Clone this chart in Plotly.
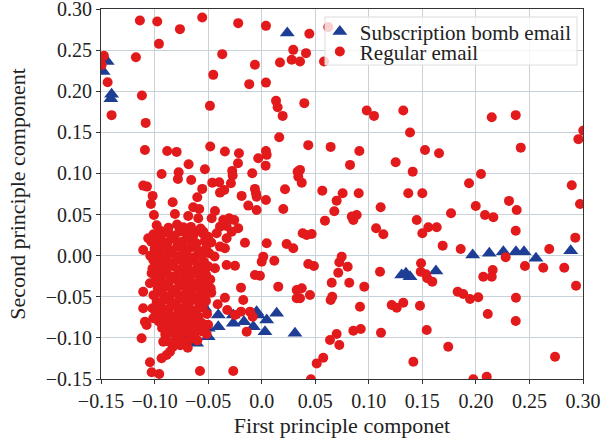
import plotly.graph_objects as go

# ---------------- data ----------------
# Subscription bomb email (blue triangles)
bomb_x = [-0.1442, -0.1480, -0.1401, -0.1408, 0.0239,
          0.1347, 0.1307, 0.1385, 0.1627, 0.1970, 0.2125, 0.2256, 0.2374, 0.2449, 0.2561, 0.2885,
          0.0140, 0.0047, 0.0031, 0.0311, -0.0047, -0.0078, -0.0165, -0.0265, -0.0405,
          -0.0560, -0.0530, -0.0499, -0.0405, -0.0499, -0.0607, -0.0747, -0.0794, -0.0707,
          -0.0779, -0.0763, -0.0032, -0.0265, -0.0574]
bomb_y = [0.2361, 0.2239, 0.1964, 0.1907, 0.2707,
          -0.0214, -0.0235, -0.0255, -0.0186, 0.0009, 0.0029, 0.0049, 0.0049, 0.0049, -0.0032, 0.0061,
          -0.0701, -0.0782, -0.0925, -0.0944, -0.0681, -0.0864, -0.0803, -0.0822, -0.0722,
          -0.0579, -0.0640, -0.0883, -0.0864, -0.0985, -0.1066, -0.0985, -0.1087, -0.1050,
          -0.0864, -0.0742, -0.0722, -0.0722, -0.0518]

# Regular email (red circles) - scattered points
regular_x = [-0.1137, -0.0975, -0.0555, -0.0763, -0.0219, 0.0040, -0.0959, -0.1473, -0.1494, -0.1174,
             -0.0368, 0.0295, 0.0171, 0.0280, -0.0063, -0.0452, -0.1438, -0.0116, 0.0040, -0.1118,
             0.0134, 0.0149, -0.0483, -0.1401, 0.0196, -0.1083, 0.0164, -0.0480, -0.1090, -0.0882,
             -0.0794, -0.0343, -0.0212, 0.0040, 0.0047, -0.0032, -0.0682, -0.0221, 0.0037, -0.0934,
             -0.0775, -0.0530, -0.0275, -0.0782, -0.0658, -0.0271, -0.0088, 0.0336, 0.0342, -0.0461,
             -0.0396, -0.0287, -0.1106, -0.1071, -0.0555, -0.0389, -0.0349, -0.0063, -0.0053, -0.0047,
             0.0218, -0.1018, -0.0601, -0.0187, -0.0831, -0.1034, -0.0125, 0.0040, -0.0639, -0.0583,
             0.0202, -0.0047, -0.0436, -0.1006, -0.0810, -0.0686, -0.0592, -0.0467, -0.0359, -0.0303,
             -0.0256, -0.0732, -0.0941, -0.0389, -0.0327, -0.0219, -0.0280, -0.1059, -0.0950, -0.0826,
             -0.0623, -0.0545, -0.0420, -0.0327, -0.0156, 0.0047, -0.1106, -0.0980, -0.0389, -0.0343,
             0.0015,
             0.0445, 0.0622, 0.0414, 0.0358, 0.0582, 0.0398, 0.0981, 0.1049, 0.1322, 0.2148,
             0.2372, 0.1385, 0.3003, 0.2957, 0.0435, 0.0644, 0.0912, 0.1525, 0.1656, 0.2419,
             0.0825, 0.1251, 0.1410, 0.0358, 0.0374, 0.2048, 0.1936, 0.2895, 0.0566, 0.0756,
             0.0906, 0.1369, 0.1500, 0.0700, 0.1111, 0.1999, 0.2309, 0.2381, 0.2972, 0.0678,
             0.0841, 0.0887, 0.1768, 0.2085, 0.2163, 0.1448, 0.0591,
             0.0856, 0.1068, 0.1136, 0.1500, 0.1556, 0.1634, 0.2372, 0.2928, 0.0420, 0.0467,
             0.0383, 0.1690, 0.1858, 0.2685, 0.2278, 0.0435, 0.0488, 0.0747, 0.0725, 0.0803,
             0.0715, 0.1105, 0.1488, 0.1485, 0.1534, 0.1546, 0.1593, 0.2458, 0.2629, 0.2825,
             0.2157, 0.2069, 0.2148, 0.0654, 0.0818, 0.0958, 0.2935, 0.0374, 0.0451, 0.0358,
             0.0659, 0.0644, 0.1830, 0.1882, 0.1945, 0.2022, 0.2374, 0.1214, 0.1261, 0.1322,
             0.0918, 0.1478, 0.2111, 0.2372, 0.0856, 0.0925, 0.1114, 0.1541, 0.0700, 0.0638,
             0.0725, 0.1742, 0.2739, 0.0575, 0.0514, 0.1416, 0.0460, 0.1976, 0.2101,
             -0.1012, -0.0436, -0.0327, -0.0249, 0.0000, 0.0118, -0.0063, -0.0016, -0.0476, -0.0193,
             0.0155, 0.0327, -0.1106, -0.1027, -0.1043, -0.0530, -0.0343, -0.0172, -0.1106, -0.0411,
             -0.0321, -0.0249, -0.0193, -0.0109, -0.0084, -0.1090, -0.1074, -0.1012, -0.1121, -0.0919,
             -0.0747, -0.0514, -0.0140, -0.0856, -0.0887, -0.0934, -0.1043, -0.1027, -0.0956, -0.0576,
             -0.0265, 0.0233, 0.0295, 0.0327]
regular_y = [0.2860, 0.2848, 0.2897, 0.2755, 0.2828, 0.2795, 0.2576, 0.2430, 0.2320, 0.2414,
             0.2451, 0.2503, 0.2349, 0.2382, 0.2321, 0.2199, 0.2110, 0.2086, 0.2105, 0.1947,
             0.1883, 0.1806, 0.1822, 0.1709, 0.1700, 0.1615, 0.1441, 0.1327, 0.1286, 0.1274,
             0.1262, 0.1266, 0.1246, 0.1274, 0.1226, 0.1185, 0.1112, 0.1125, 0.1095, 0.0994,
             0.1015, 0.1051, 0.1031, 0.0933, 0.0921, 0.0974, 0.1003, 0.1022, 0.0961, 0.0888,
             0.0893, 0.0881, 0.0852, 0.0840, 0.0812, 0.0767, 0.0800, 0.0812, 0.0759, 0.0718,
             0.0808, 0.0727, 0.0711, 0.0727, 0.0650, 0.0629, 0.0609, 0.0678, 0.0589, 0.0568,
             0.0568, 0.0556, 0.0544, 0.0495, 0.0507, 0.0483, 0.0455, 0.0455, 0.0434, 0.0455,
             0.0434, 0.0346, 0.0301, 0.0353, 0.0361, 0.0333, 0.0292, 0.0212, 0.0191, 0.0240,
             0.0292, 0.0292, 0.0273, 0.0212, 0.0158, 0.0151, 0.0069, 0.0110, 0.0110, 0.0090,
             -0.0012,
             0.2698, 0.2780, 0.2463, 0.2361, 0.2361, 0.1855, 0.1765, 0.1700, 0.1765, 0.1684,
             0.1709, 0.1497, 0.1521, 0.1417, 0.1344, 0.1323, 0.1274, 0.1286, 0.1246, 0.1314,
             0.1104, 0.1137, 0.1022, 0.1043, 0.0888, 0.0994, 0.0881, 0.0857, 0.0791, 0.0759,
             0.0759, 0.0759, 0.0759, 0.0669, 0.0589, 0.0605, 0.0666, 0.0556, 0.0629, 0.0540,
             0.0475, 0.0495, 0.0516, 0.0495, 0.0467, 0.0434, 0.0426,
             0.0434, 0.0333, 0.0260, 0.0273, 0.0346, 0.0346, 0.0304, 0.0219, 0.0252, 0.0264,
             0.0273, 0.0122, 0.0082, 0.0082, -0.0019, -0.0101, -0.0125, -0.0012, -0.0080, -0.0134,
             -0.0207, -0.0195, -0.0092, -0.0195, -0.0226, -0.0275, -0.0316, -0.0125, -0.0146, -0.0146,
             -0.0174, -0.0256, -0.0256, -0.0329, -0.0329, -0.0377, -0.0365, -0.0397, -0.0478, -0.0518,
             -0.0499, -0.0539, -0.0438, -0.0466, -0.0527, -0.0506, -0.0511, -0.0600, -0.0633, -0.0572,
             -0.0621, -0.0609, -0.0710, -0.0795, -0.0913, -0.0892, -0.0937, -0.0904, -0.0953, -0.1026,
             -0.1087, -0.1107, -0.1229, -0.1241, -0.1310, -0.1290, -0.1504, -0.1504, -0.1472,
             -0.0052, -0.0153, -0.0113, -0.0122, -0.0073, -0.0061, -0.0235, -0.0245, -0.0397, -0.0389,
             -0.0377, -0.0417, -0.0438, -0.0214, -0.0336, -0.0478, -0.0511, -0.0539, -0.0640, -0.0591,
             -0.0661, -0.0722, -0.0681, -0.0681, -0.0742, -0.0803, -0.0843, -0.0762, -0.1005, -0.1047,
             -0.1054, -0.0953, -0.0925, -0.1168, -0.1208, -0.1248, -0.1297, -0.1418, -0.1439, -0.1403,
             -0.1403, 0.0142, 0.0090, -0.0518]

# Regular email - dense cluster near (-0.08, -0.03)
cluster_x = [-0.098, -0.087, -0.079, -0.066, -0.057,
             -0.101, -0.091, -0.085, -0.077, -0.070, -0.064, -0.055, -0.050,
             -0.103, -0.094, -0.088, -0.081, -0.074, -0.068, -0.061, -0.053, -0.047,
             -0.100, -0.092, -0.086, -0.079, -0.072, -0.066, -0.059, -0.052,
             -0.104, -0.096, -0.089, -0.083, -0.076, -0.070, -0.063, -0.056, -0.049, -0.044,
             -0.099, -0.093, -0.087, -0.080, -0.073, -0.067, -0.060, -0.054,
             -0.102, -0.095, -0.089, -0.082, -0.075, -0.069, -0.062, -0.056, -0.050,
             -0.098, -0.091, -0.085, -0.078, -0.071, -0.065, -0.058, -0.052,
             -0.100, -0.094, -0.087, -0.080, -0.074, -0.067, -0.061, -0.055, -0.048,
             -0.097, -0.090, -0.083, -0.077, -0.070, -0.063, -0.057, -0.051,
             -0.101, -0.093, -0.086, -0.080, -0.073, -0.066, -0.060, -0.054, -0.047,
             -0.098, -0.091, -0.084, -0.077, -0.070, -0.064, -0.058, -0.052,
             -0.102, -0.094, -0.087, -0.081, -0.074, -0.068, -0.061, -0.055,
             -0.099, -0.092, -0.085, -0.078, -0.072, -0.065, -0.059, -0.051,
             -0.096, -0.089, -0.082, -0.076, -0.069, -0.062, -0.056,
             -0.093, -0.086, -0.079, -0.073, -0.066, -0.059, -0.050,
             -0.090, -0.083, -0.076, -0.070, -0.063, -0.056,
             -0.088, -0.080, -0.073, -0.066, -0.060,
             -0.083, -0.076, -0.069]
cluster_y = [0.037, 0.034, 0.038, 0.035, 0.033,
             0.026, 0.028, 0.025, 0.029, 0.026, 0.024, 0.027, 0.023,
             0.017, 0.019, 0.016, 0.020, 0.017, 0.019, 0.015, 0.018, 0.016,
             0.008, 0.010, 0.007, 0.011, 0.008, 0.010, 0.006, 0.009,
             0.000, 0.002, -0.001, 0.003, 0.000, 0.002, -0.002, 0.001, 0.003, -0.001,
             -0.008, -0.006, -0.009, -0.005, -0.008, -0.006, -0.010, -0.007,
             -0.016, -0.014, -0.017, -0.013, -0.016, -0.014, -0.018, -0.015, -0.013,
             -0.024, -0.022, -0.025, -0.021, -0.024, -0.022, -0.026, -0.023,
             -0.032, -0.030, -0.033, -0.029, -0.032, -0.030, -0.034, -0.031, -0.029,
             -0.040, -0.038, -0.041, -0.037, -0.040, -0.038, -0.042, -0.039,
             -0.048, -0.046, -0.049, -0.045, -0.048, -0.046, -0.050, -0.047, -0.045,
             -0.056, -0.054, -0.057, -0.053, -0.056, -0.054, -0.058, -0.055,
             -0.064, -0.062, -0.065, -0.061, -0.064, -0.062, -0.066, -0.063,
             -0.072, -0.070, -0.073, -0.069, -0.072, -0.070, -0.074, -0.071,
             -0.080, -0.078, -0.081, -0.077, -0.080, -0.078, -0.082,
             -0.088, -0.086, -0.089, -0.085, -0.088, -0.086, -0.084,
             -0.096, -0.094, -0.097, -0.093, -0.096, -0.092,
             -0.104, -0.102, -0.105, -0.101, -0.103,
             -0.111, -0.109, -0.112]

# Axis ticks
x_tickvals = [-0.15, -0.10, -0.05, 0.0, 0.05, 0.10, 0.15, 0.20, 0.25, 0.30]
x_ticktext = ["\u22120.15", "\u22120.10", "\u22120.05", "0.0", "0.05", "0.10", "0.15", "0.20", "0.25", "0.30"]
y_tickvals = [-0.15, -0.10, -0.05, 0.0, 0.05, 0.10, 0.15, 0.20, 0.25, 0.30]
y_ticktext = ["\u22120.15", "\u22120.10", "\u22120.05", "0.00", "0.05", "0.10", "0.15", "0.20", "0.25", "0.30"]

RED = "#e31a1c"
BLUE = "#1d3e94"
FONT = "Liberation Serif, Times New Roman, serif"
TXT = "#222222"

fig = go.Figure()
fig.add_trace(go.Scatter(
    x=bomb_x, y=bomb_y, mode="markers", name="Subscription bomb email",
    marker=dict(symbol="triangle-up", size=13, color=BLUE, line=dict(width=0)),
    legend="legend",
))
fig.add_trace(go.Scatter(
    x=regular_x + cluster_x, y=regular_y + cluster_y, mode="markers", name="Regular email",
    marker=dict(symbol="circle", size=10, color=RED, line=dict(width=0)),
    legend="legend2",
))

axis_common = dict(
    showgrid=True, gridcolor="#c9d1d9", gridwidth=1,
    zeroline=False, showline=True, linecolor="#333333", linewidth=1, mirror=True,
    ticks="outside", ticklen=4, tickcolor="#333333",
    tickfont=dict(family=FONT, size=20, color=TXT),
    ticklabeloverflow="allow", automargin=False,
    range=[-0.15, 0.30],
)
fig.update_xaxes(**axis_common, tickvals=x_tickvals, ticktext=x_ticktext,
                 title=dict(text="First principle componet", font=dict(family=FONT, size=22, color=TXT), standoff=6))
fig.update_yaxes(**axis_common, tickvals=y_tickvals, ticktext=y_ticktext,
                 title=dict(text="Second principle component", font=dict(family=FONT, size=22, color=TXT), standoff=14))

legend_common = dict(
    xanchor="left", yanchor="middle", x=0.454,
    bgcolor="rgba(0,0,0,0)", borderwidth=0,
    font=dict(family=FONT, size=21, color=TXT),
)

fig.update_layout(
    width=603, height=443,
    margin=dict(l=101, r=20, t=9, b=64),
    plot_bgcolor="white", paper_bgcolor="white",
    showlegend=True,
    legend=dict(**legend_common, y=0.938),
    legend2=dict(**legend_common, y=0.884),
    shapes=[dict(type="rect", xref="paper", yref="paper",
                 x0=0.4647, x1=0.9876, y0=0.8486, y1=0.9784,
                 fillcolor="rgba(255,255,255,0.8)", line=dict(color="#dddddd", width=1),
                 layer="above")],
)

fig.write_html("out.html", config={"displayModeBar": False},
               post_script="document.body.style.margin='0';")
